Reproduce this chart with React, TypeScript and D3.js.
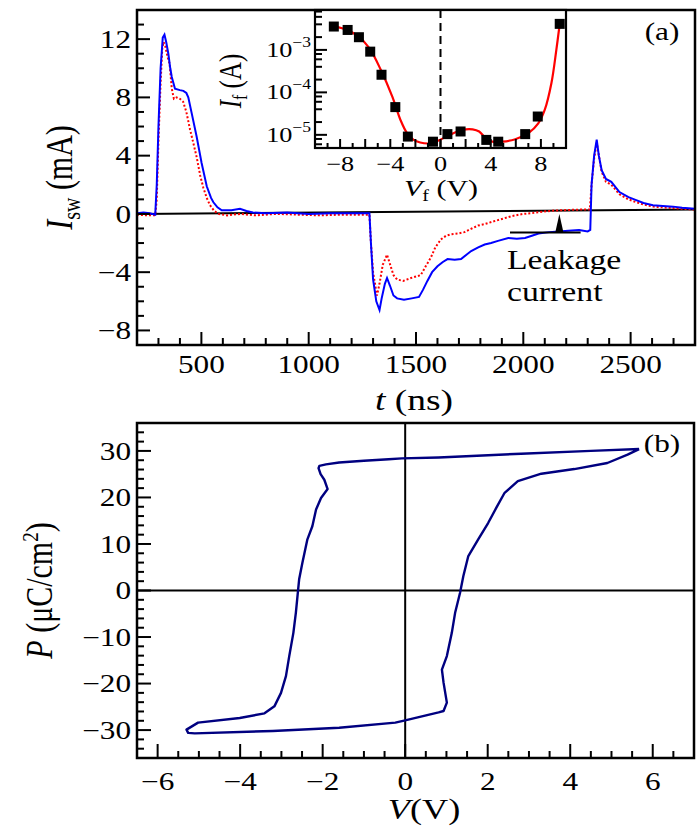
import React from 'react';
import * as d3 from 'd3';

const FONT = '"Liberation Serif", "DejaVu Serif", serif';
const SX = 1.25;

// ---------- Panel (a): switching current ----------
const blueT = [200, 230, 260, 285, 292, 300, 310, 320, 328, 336, 346, 355, 362, 377, 400, 416, 430, 439, 455, 478, 501, 525, 545, 556, 575, 595, 640, 680, 710, 740, 800, 900, 1000, 1100, 1200, 1283, 1290, 1300, 1315, 1330, 1340, 1355, 1365, 1378, 1395, 1412, 1444, 1480, 1514, 1533, 1553, 1575, 1600, 1625, 1647, 1680, 1710, 1735, 1757, 1790, 1820, 1850, 1882, 1930, 1970, 2008, 2040, 2071, 2120, 2165, 2210, 2260, 2300, 2312, 2318, 2330, 2342, 2352, 2365, 2385, 2410, 2448, 2490, 2526, 2560, 2604, 2650, 2698, 2740, 2800];
const blueI = [0.05, 0.1, 0.05, -0.05, 2, 6, 10, 12.1, 12.3, 11.8, 11.0, 10.0, 9.4, 8.6, 8.5, 8.45, 8.3, 8.0, 6.9, 5.3, 3.5, 1.9, 1.1, 0.8, 0.45, 0.25, 0.25, 0.35, 0.2, 0.1, 0.05, 0.1, 0.0, 0.05, 0.05, 0.05, -2, -4.5, -6.0, -6.6, -5.8, -4.8, -4.4, -4.9, -5.6, -5.8, -5.9, -5.8, -5.7, -5.2, -4.6, -4.0, -3.6, -3.3, -3.1, -3.15, -3.1, -2.8, -2.55, -2.3, -2.1, -2.0, -1.85, -1.65, -1.7, -1.65, -1.5, -1.35, -1.25, -1.2, -1.15, -1.1, -1.2, -1.1, 2.0, 4.0, 5.1, 4.0, 3.0, 2.4, 2.2, 1.5, 1.15, 0.95, 0.75, 0.6, 0.55, 0.5, 0.42, 0.35];

const redT = [200, 250, 285, 292, 300, 310, 318, 324, 332, 342, 352, 362, 372, 385, 400, 415, 430, 447, 462, 478, 495, 509, 525, 540, 560, 580, 620, 680, 750, 850, 950, 1050, 1150, 1283, 1290, 1300, 1318, 1330, 1345, 1365, 1380, 1395, 1412, 1440, 1477, 1522, 1545, 1569, 1590, 1616, 1640, 1663, 1695, 1726, 1760, 1789, 1820, 1852, 1900, 1946, 2000, 2040, 2090, 2134, 2180, 2228, 2270, 2310, 2318, 2330, 2342, 2352, 2365, 2385, 2410, 2448, 2490, 2526, 2560, 2604, 2650, 2698, 2740, 2800];
const redI = [-0.05, -0.1, -0.1, 1, 5, 9, 11.4, 11.8, 11.5, 10.8, 10.3, 8.6, 7.9, 8.0, 7.9, 7.7, 7.0, 5.8, 4.9, 3.9, 2.6, 1.8, 1.1, 0.6, 0.2, 0.0, -0.1, 0.0, -0.1, 0.0, -0.05, -0.1, -0.05, -0.05, -2, -4, -5.6, -4.8, -3.5, -2.8, -3.5, -4.2, -4.5, -4.6, -4.4, -4.2, -3.6, -3.0, -2.3, -1.75, -1.5, -1.4, -1.35, -1.25, -1.0, -0.8, -0.7, -0.55, -0.35, -0.15, 0.0, 0.05, 0.15, 0.22, 0.25, 0.28, 0.3, 0.3, 2.0, 3.8, 4.9, 4.0, 2.9, 2.2, 2.0, 1.35, 1.0, 0.8, 0.65, 0.5, 0.45, 0.4, 0.35, 0.3];

const refLineT = [200, 2800];
const refLineI = [0.0, 0.3];
const leakT = [1938, 2267];
const leakI = -1.28;
const leakArrowT = 2168;

const aYTicks = [-8, -4, 0, 4, 8, 12];
const aXTicks = [500, 1000, 1500, 2000, 2500];

// ---------- Inset: forward current vs voltage ----------
const insetV = [-8.5, -7.4, -6.5, -5.6, -4.7, -3.6, -2.6, -0.6, 0.55, 1.6, 3.65, 4.6, 6.75, 7.75, 9.5];
const insetI = [3.55e-3, 2.95e-3, 1.99e-3, 9.1e-4, 2.6e-4, 4.5e-5, 9.1e-6, 6.9e-6, 1.04e-5, 1.2e-5, 7.6e-6, 6.9e-6, 1.04e-5, 2.7e-5, 4.1e-3];
const fitV = [-8.81, -7.63, -6.59, -5.67, -4.76, -3.84, -3.19, -2.67, -2.14, -1.62, -0.84, -0.05, 0.73, 1.78, 2.56, 3.08, 3.61, 4.13, 4.92, 5.96, 7.01, 7.79, 8.31, 8.84, 9.23, 9.49];
const fitI = [3.67e-3, 3.09e-3, 2.14e-3, 1.1e-3, 3.4e-4, 7.9e-5, 2.24e-5, 1.1e-5, 7.6e-6, 6.6e-6, 6.3e-6, 7.6e-6, 1.0e-5, 1.32e-5, 1.35e-5, 1.2e-5, 8.3e-6, 6.9e-6, 6.9e-6, 7.9e-6, 1.1e-5, 1.86e-5, 3.9e-5, 1.66e-4, 1.0e-3, 3.9e-3];
const insetXTicks = [-8, -4, 0, 4, 8];
const insetYTicks = [1e-5, 1e-4, 1e-3];
const insetYExp = ['−5', '−4', '−3'];

// ---------- Panel (b): P-V hysteresis ----------
const loopV = [5.67, 4.5, 2.81, 0.81, -0.08, -0.4, -1.0, -1.6, -1.92, -2.08, -2.1, -2.05, -1.96, -1.88, -2.04, -2.16, -2.25, -2.37, -2.49, -2.57, -2.6, -2.65, -2.71, -2.81, -2.89, -3.01, -3.17, -3.41, -4.01, -5.02, -5.3, -5.26, -5.1, -3.21, -1.6, -0.24, 0.0, 0.81, 0.93, 1.01, 0.93, 0.89, 1.01, 1.13, 1.21, 1.33, 1.41, 1.53, 1.77, 2.01, 2.21, 2.41, 2.73, 3.3, 4.1, 4.9, 5.39, 5.67];
const loopP = [30.4, 30.0, 29.4, 28.6, 28.4, 28.2, 27.9, 27.5, 27.1, 26.8, 26.3, 25.0, 23.8, 21.8, 19.9, 17.4, 13.8, 11.0, 6.0, 2.4, -0.3, -4.8, -9.1, -14.1, -18.4, -22.0, -24.9, -26.4, -27.4, -28.4, -29.9, -30.6, -30.7, -30.2, -29.5, -28.4, -27.9, -26.2, -25.9, -24.1, -19.8, -17.0, -14.1, -9.1, -4.8, -0.5, 3.1, 7.4, 11.0, 14.5, 17.8, 21.0, 23.5, 25.1, 26.1, 27.4, 29.2, 30.4];
const bYTicks = [-30, -20, -10, 0, 10, 20, 30];
const bXTicks = [-6, -4, -2, 0, 2, 4, 6];

const fmt = (v: number) => (v < 0 ? '−' + Math.abs(v) : String(v));

function T({ x, y, anchor = 'middle', size = 25, rot = false, dy, children }: any) {
  const tr = `translate(${x},${y}) scale(${SX},1)` + (rot ? ' rotate(-90)' : '');
  return (
    <text transform={tr} textAnchor={anchor} fontSize={size} fontFamily={FONT} dy={dy} fill="#000">
      {children}
    </text>
  );
}

export default function App() {
  const xA = d3.scaleLinear().domain([200, 2800]).range([137, 695]);
  const yA = d3.scaleLinear().domain([-9, 14]).range([345, 10]);
  const xI = d3.scaleLinear().domain([-10, 10]).range([315, 566]);
  const yI = d3.scaleLog().domain([4.9e-6, 8.7e-3]).range([148, 10]);
  const xB = d3.scaleLinear().domain([-6.5, 7]).range([137, 694]);
  const yB = d3.scaleLinear().domain([-36, 36]).range([758, 423]);

  const pathOf = (xs: number[], ys: number[], sx: any, sy: any, curve: any = d3.curveLinear) =>
    d3.line<number>().x((d) => sx(d)).y((_, i) => sy(ys[i])).curve(curve)(xs) || '';

  const bluePath = pathOf(blueT, blueI, xA, yA);
  const redPath = pathOf(redT, redI, xA, yA);
  const refPath = pathOf(refLineT, refLineI, xA, yA);
  const fitPath = pathOf(fitV, fitI, xI, yI, d3.curveCatmullRom);
  const loopPath = pathOf(loopV, loopP, xB, yB);

  const [a0, a1] = xA.range();
  const [ab, at] = yA.range();
  const [i0, i1] = xI.range();
  const [ib, it] = yI.range();
  const [b0, b1] = xB.range();
  const [bb, bt] = yB.range();

  const aMinorY = d3.range(-9, 15, 1);
  const aMinorX = d3.range(200, 2801, 100);
  const iMinorX = d3.range(-9, 10, 1);
  const iMinorY: number[] = [];
  [1e-6, 1e-5, 1e-4, 1e-3].forEach((dcd) => [2, 4, 6, 8].forEach((m) => {
    const v = dcd * m;
    if (v > 4.9e-6 && v < 8.7e-3) iMinorY.push(v);
  }));
  const bMinorY = d3.range(-36, 37, 2);
  const bMinorX = d3.range(-6.5, 7.01, 0.5);

  const sq = 10;
  const arrowHalf = 19;

  return (
    <svg width={700} height={826} style={{ display: 'block', position: 'absolute', left: 0, top: 0 }}>
      <defs>
        <clipPath id="clipA"><rect x={a0} y={at} width={a1 - a0} height={ab - at} /></clipPath>
        <clipPath id="clipB"><rect x={b0} y={bt} width={b1 - b0} height={bb - bt} /></clipPath>
        <clipPath id="clipI"><rect x={i0} y={it} width={i1 - i0} height={ib - it} /></clipPath>
      </defs>
      <rect x={0} y={0} width={700} height={826} fill="#fff" />

      {/* ===== Panel (a) ===== */}
      <g clipPath="url(#clipA)">
        <path d={refPath} stroke="#000" strokeWidth={2} fill="none" />
        <path d={redPath} stroke="#ff0000" strokeWidth={2} strokeDasharray="2,2" fill="none" />
        <path d={bluePath} stroke="#0000ff" strokeWidth={2} fill="none" />
        <line x1={xA(leakT[0])} x2={xA(leakT[1])} y1={yA(leakI)} y2={yA(leakI)} stroke="#000" strokeWidth={2} />
        <path
          d={`M${xA(leakArrowT - arrowHalf)},${yA(leakI)} L${xA(leakArrowT)},${yA(0)} L${xA(leakArrowT + arrowHalf)},${yA(leakI)} Z`}
          fill="#000"
        />
      </g>
      {aMinorY.map((v) => (
        <line key={'ay' + v} x1={a0} x2={a0 + (aYTicks.includes(v) ? 13 : 7)} y1={yA(v)} y2={yA(v)} stroke="#000" strokeWidth={2} />
      ))}
      {aMinorX.map((v) => (
        <line key={'ax' + v} y1={ab} y2={ab - (aXTicks.includes(v) ? 13 : 7)} x1={xA(v)} x2={xA(v)} stroke="#000" strokeWidth={2} />
      ))}
      {aYTicks.map((v) => (
        <T key={'ayl' + v} x={131} y={yA(v)} anchor="end" dy="0.35em">{fmt(v)}</T>
      ))}
      {aXTicks.map((v) => (
        <T key={'axl' + v} x={xA(v)} y={373}>{fmt(v)}</T>
      ))}
      <T x={72} y={(at + ab) / 2} rot size={30}>
        <tspan fontStyle="italic">I</tspan>
        <tspan fontSize={20} dy={6}>sw</tspan>
        <tspan dy={-6}> (mA)</tspan>
      </T>
      <T x={414} y={410} size={30}>
        <tspan fontStyle="italic">t</tspan> (ns)
      </T>
      <T x={507} y={269} anchor="start" size={27}>Leakage</T>
      <T x={507} y={301} anchor="start" size={27}>current</T>
      <T x={662} y={40} size={25}>(a)</T>
      <rect x={a0} y={at} width={a1 - a0} height={ab - at} fill="none" stroke="#000" strokeWidth={2.5} />

      {/* ===== Inset ===== */}
      <rect x={i0} y={it} width={i1 - i0} height={ib - it} fill="#fff" />
      <g clipPath="url(#clipI)">
        <line x1={xI(0)} x2={xI(0)} y1={it} y2={ib} stroke="#000" strokeWidth={2} strokeDasharray="8,5" />
        <path d={fitPath} stroke="#ff0000" strokeWidth={2.2} fill="none" />
        {insetV.map((v, i) => (
          <rect key={'sq' + i} x={xI(v) - sq / 2} y={yI(insetI[i]) - sq / 2} width={sq} height={sq} fill="#000" />
        ))}
      </g>
      {iMinorX.map((v) => (
        <line key={'ix' + v} x1={xI(v)} x2={xI(v)} y1={ib} y2={ib - (v % 2 === 0 ? 9 : 5)} stroke="#000" strokeWidth={2} />
      ))}
      {insetYTicks.map((v) => (
        <line key={'iyM' + v} x1={i0} x2={i0 + 12} y1={yI(v)} y2={yI(v)} stroke="#000" strokeWidth={2} />
      ))}
      {iMinorY.map((v) => (
        <line key={'iym' + v} x1={i0} x2={i0 + 7} y1={yI(v)} y2={yI(v)} stroke="#000" strokeWidth={2} />
      ))}
      {insetXTicks.map((v) => (
        <T key={'ixl' + v} x={xI(v)} y={171} size={21}>{fmt(v)}</T>
      ))}
      {insetYTicks.map((v, i) => (
        <T key={'iyl' + v} x={311} y={yI(v) + 7} anchor="end" size={21}>
          10<tspan fontSize={14} dy={-10}>{insetYExp[i]}</tspan>
        </T>
      ))}
      <T x={241} y={(it + ib) / 2 + 2} rot size={25}>
        <tspan fontStyle="italic">I</tspan>
        <tspan fontSize={16} dy={5}>f</tspan>
        <tspan dy={-5}> (A)</tspan>
      </T>
      <T x={441} y={196} size={24}>
        <tspan fontStyle="italic">V</tspan>
        <tspan fontSize={16} dy={5}>f</tspan>
        <tspan dy={-5}> (V)</tspan>
      </T>
      <rect x={i0} y={it} width={i1 - i0} height={ib - it} fill="none" stroke="#000" strokeWidth={2.2} />

      {/* ===== Panel (b) ===== */}
      <g clipPath="url(#clipB)">
        <line x1={b0} x2={b1} y1={yB(0)} y2={yB(0)} stroke="#000" strokeWidth={2} />
        <line x1={xB(0)} x2={xB(0)} y1={bt} y2={bb} stroke="#000" strokeWidth={2} />
        <path d={loopPath} stroke="#000080" strokeWidth={2.4} fill="none" strokeLinejoin="round" />
      </g>
      {bMinorY.map((v) => (
        <line key={'by' + v} x1={b0} x2={b0 + (bYTicks.includes(v) ? 14 : 7)} y1={yB(v)} y2={yB(v)} stroke="#000" strokeWidth={2} />
      ))}
      {bMinorX.map((v) => (
        <line key={'bx' + v} y1={bb} y2={bb - (bXTicks.includes(v) ? 14 : 7)} x1={xB(v)} x2={xB(v)} stroke="#000" strokeWidth={2} />
      ))}
      {bYTicks.map((v) => (
        <T key={'byl' + v} x={131} y={yB(v)} anchor="end" dy="0.35em">{fmt(v)}</T>
      ))}
      {bXTicks.map((v) => (
        <T key={'bxl' + v} x={xB(v)} y={790}>{fmt(v)}</T>
      ))}
      <T x={52} y={(bt + bb) / 2} rot size={30}>
        <tspan fontStyle="italic">P</tspan> (μC/cm<tspan fontSize={19} dy={-11}>2</tspan><tspan dy={11}>)</tspan>
      </T>
      <T x={424} y={819} size={29}>
        <tspan fontStyle="italic">V</tspan>(V)
      </T>
      <T x={662} y={452} size={25}>(b)</T>
      <rect x={b0} y={bt} width={b1 - b0} height={bb - bt} fill="none" stroke="#000" strokeWidth={2.5} />
    </svg>
  );
}
